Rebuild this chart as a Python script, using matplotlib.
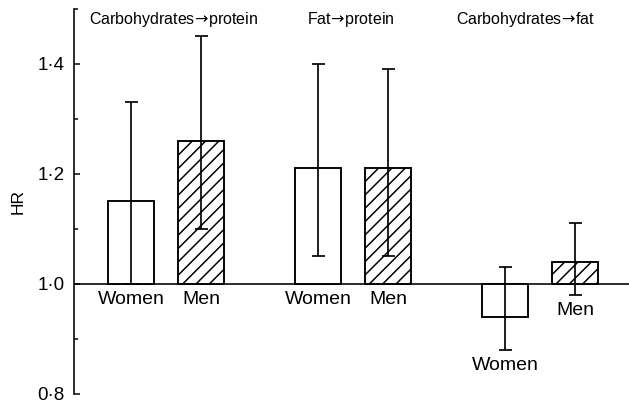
import numpy as np
import matplotlib as mpl
mpl.use("Agg")
import matplotlib.pyplot as plt
from matplotlib.ticker import FixedLocator, FuncFormatter

DPI = 120


def px(v):
    # size given in pixels -> points at the figure dpi
    return v * 72.0 / DPI


plt.rcParams['font.family'] = ['Liberation Sans', 'DejaVu Sans']
plt.rcParams['mathtext.fontset'] = 'dejavusans'
plt.rcParams['hatch.linewidth'] = px(1.5)

# data
groups = ["Carbohydrates", "Fat", "Carbohydrates"]
targets = ["protein", "protein", "fat"]
sexes = ["Women", "Men"]
hr_women = [1.15, 1.21, 0.94]
lo_women = [1.00, 1.05, 0.88]
hi_women = [1.33, 1.40, 1.03]
hr_men = [1.26, 1.21, 1.04]
lo_men = [1.10, 1.05, 0.98]
hi_men = [1.45, 1.39, 1.11]
yticks = [0.8, 1.0, 1.2, 1.4]
yminor = [0.9, 1.1, 1.3, 1.5]

# layout
group_step = 2.67
bar_w = 0.66
title_x = [0.61, 3.14, 5.64]

fig = plt.figure(figsize=(629 / DPI, 406 / DPI), dpi=DPI)
ax = fig.add_axes([0.1169, 0.0296, 0.8831, 0.9484])

xw = np.arange(len(groups)) * group_step
xm = xw + 1

for x, hr, lo, hi, hatch in [(xw, hr_women, lo_women, hi_women, None),
                             (xm, hr_men, lo_men, hi_men, '///')]:
    hr = np.array(hr)
    ax.bar(x, hr - 1.0, bottom=1.0, width=bar_w, color='white',
           edgecolor='black', linewidth=px(1.9), hatch=hatch, zorder=2)
    ax.errorbar(x, hr, yerr=[hr - np.array(lo), np.array(hi) - hr],
                fmt='none', ecolor='black', elinewidth=px(1.7), capsize=px(6.5),
                capthick=px(1.7), zorder=3)

ax.axhline(1.0, color='black', linewidth=px(1.6), zorder=1)

# Women / Men labels under each bar
for i in range(len(groups)):
    for x, lo, name in [(xw[i], lo_women[i], sexes[0]), (xm[i], lo_men[i], sexes[1])]:
        y = min(1.0, lo) - 0.028
        ax.text(x, y, name, ha='center', va='center', fontsize=px(19.5))

for tx, g, t in zip(title_x, groups, targets):
    ax.text(tx, 1.48, g + r"$\!\rightarrow\!$" + t, ha='center', va='center',
            fontsize=px(16))

ax.set_xlim(-0.82, 7.11)
ax.set_ylim(0.8, 1.5)
for s in ['top', 'right', 'bottom']:
    ax.spines[s].set_visible(False)
ax.spines['left'].set_linewidth(px(1.6))
ax.set_xticks([])
ax.yaxis.set_major_locator(FixedLocator(yticks))
ax.yaxis.set_minor_locator(FixedLocator(yminor))
ax.yaxis.set_major_formatter(FuncFormatter(lambda v, p: f"{v:.1f}".replace('.', '\u00b7')))
ax.tick_params(axis='y', which='major', direction='in', length=px(6), width=px(1.5),
               labelsize=px(18.75), pad=px(9))
ax.tick_params(axis='y', which='minor', direction='in', length=px(4), width=px(1.5))
ax.set_ylabel("HR", fontsize=px(17.4))
ax.yaxis.set_label_coords(-0.087, 0.5)

fig.savefig("out.png", dpi=DPI)
